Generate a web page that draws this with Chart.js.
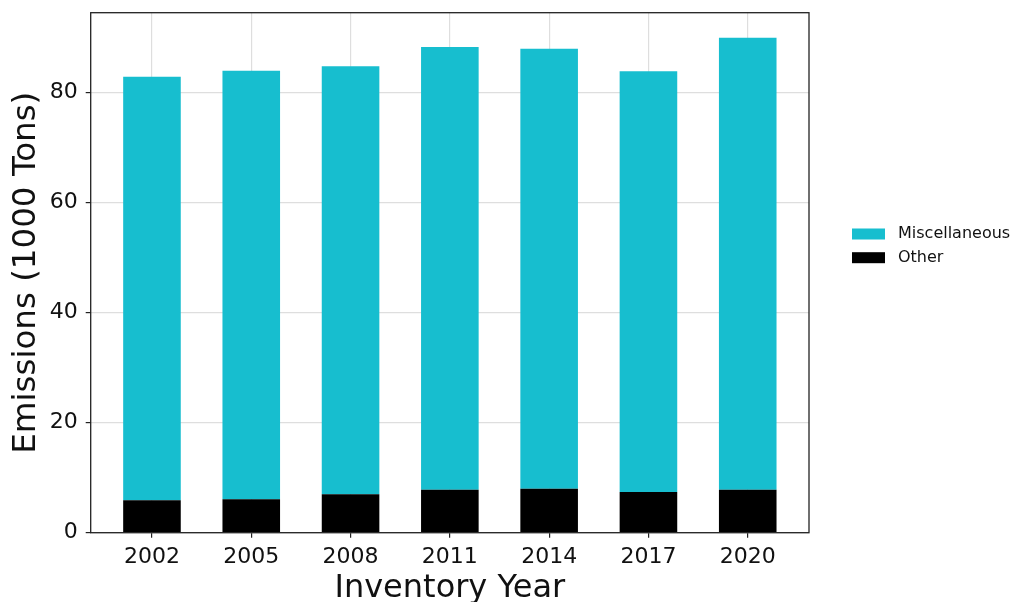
<!DOCTYPE html>
<html>
<head>
<meta charset="utf-8">
<script src="https://cdn.jsdelivr.net/npm/chart.js@4.4.1/dist/chart.umd.min.js"></script>
<style>
  html, body { margin: 0; padding: 0; background: #fff; }
  #wrap { width: 1011px; height: 602px; position: relative; }
</style>
</head>
<body>
<div id="wrap"><canvas id="c"></canvas></div>
<script>
// Emissions by inventory year, in thousands of tons
const years = ['2002', '2005', '2008', '2011', '2014', '2017', '2020'];
const otherValues = [5.9, 6.1, 7.0, 7.8, 8.0, 7.4, 7.8];
const miscValues = [77.0, 77.9, 77.8, 80.5, 80.0, 76.5, 82.2];
const yTickValues = [0, 20, 40, 60, 80];

const FONT = '"DejaVu Sans", sans-serif';
const CYAN = '#17becf';

// Box around the whole plotting area
const frame = {
  id: 'frame',
  afterDatasetsDraw(chart) {
    const { ctx, chartArea: a } = chart;
    ctx.save();
    ctx.strokeStyle = '#222';
    ctx.lineWidth = 1.3;
    ctx.strokeRect(a.left, a.top, a.right - a.left, a.bottom - a.top);
    ctx.restore();
  }
};

// Legend placed to the right of the plot, top series first
const sideLegend = {
  id: 'sideLegend',
  afterDraw(chart) {
    const { ctx, chartArea: a } = chart;
    const items = chart.data.datasets.slice().reverse();
    ctx.save();
    ctx.font = '16px ' + FONT;
    ctx.textBaseline = 'middle';
    ctx.textAlign = 'left';
    items.forEach((ds, i) => {
      const y = 234 + i * 23.7;
      const x = a.right + 43;
      ctx.fillStyle = ds.backgroundColor;
      ctx.fillRect(x, y - 5.5, 33, 11);
      ctx.fillStyle = '#111';
      ctx.fillText(ds.label, x + 46, y);
    });
    ctx.restore();
  }
};

const toPoints = vals => vals.map((v, i) => ({ x: i, y: v }));

new Chart(document.getElementById('c'), {
  type: 'bar',
  data: {
    datasets: [
      { label: 'Other', data: toPoints(otherValues), backgroundColor: '#000000', borderWidth: 0 },
      { label: 'Miscellaneous', data: toPoints(miscValues), backgroundColor: CYAN, borderWidth: 0 }
    ]
  },
  options: {
    responsive: true,
    maintainAspectRatio: false,
    animation: false,
    layout: { padding: { top: 12.7, right: 202, bottom: 0, left: 0 } },
    datasets: { bar: { categoryPercentage: 1, barPercentage: 0.58 } },
    plugins: { legend: { display: false }, tooltip: { enabled: false } },
    scales: {
      x: {
        type: 'linear',
        stacked: true,
        offset: false,
        min: -0.617,
        max: 6.617,
        afterBuildTicks: s => { s.ticks = years.map((_, i) => ({ value: i })); },
        afterFit: s => { s.height = 69.3; s.paddingLeft = 0; s.paddingRight = 0; },
        ticks: {
          callback: v => years[v],
          font: { family: FONT, size: 22 },
          color: '#111',
          padding: 6,
          maxRotation: 0,
          autoSkip: false
        },
        grid: { offset: false, color: '#dedede', lineWidth: 1.2, tickColor: '#222', tickLength: 5 },
        border: { display: false },
        title: {
          display: true,
          text: 'Inventory Year',
          font: { family: FONT, size: 32, lineHeight: 0.85 },
          color: '#111',
          padding: { top: 0, bottom: 0 }
        }
      },
      y: {
        stacked: true,
        min: 0,
        max: 94.55,
        afterBuildTicks: s => { s.ticks = yTickValues.map(v => ({ value: v })); },
        afterFit: s => { s.width = 90.7; s.paddingTop = 0; s.paddingBottom = 0; },
        ticks: {
          font: { family: FONT, size: 22 },
          color: '#111',
          padding: 8
        },
        grid: { color: '#dedede', lineWidth: 1.2, tickColor: '#222', tickLength: 5 },
        border: { display: false },
        title: {
          display: true,
          text: 'Emissions (1000 Tons)',
          font: { family: FONT, size: 32.5, lineHeight: 1 },
          color: '#111',
          padding: { top: 10, bottom: 0 }
        }
      }
    }
  },
  plugins: [frame, sideLegend]
});
</script>
</body>
</html>
